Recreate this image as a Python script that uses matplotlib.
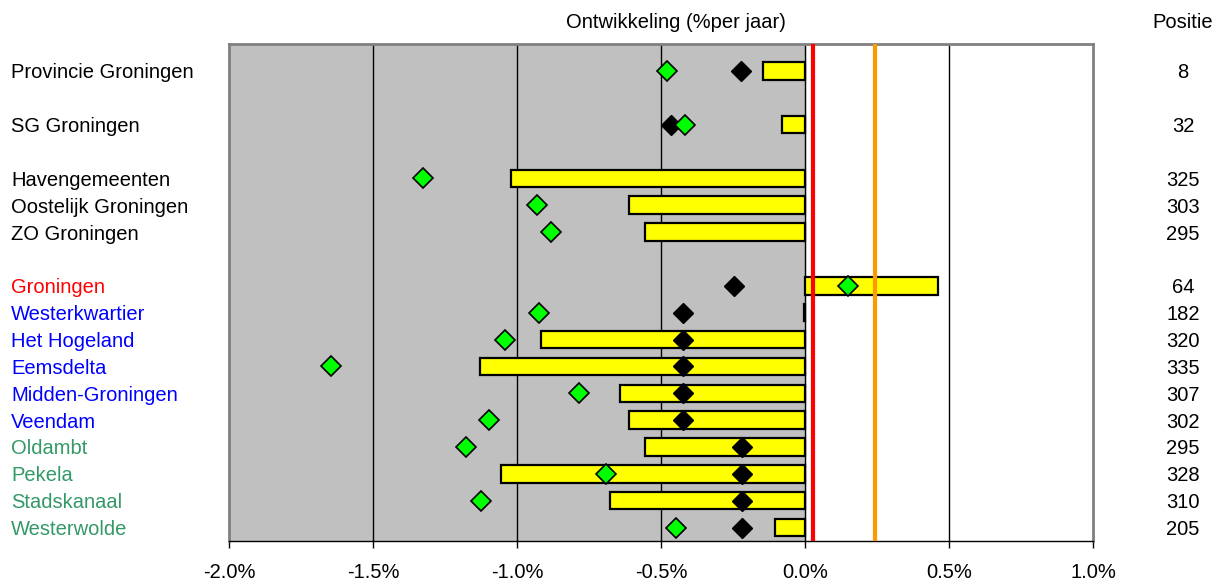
import matplotlib
matplotlib.use("Agg")
import matplotlib.pyplot as plt
import matplotlib.transforms as mtransforms
import numpy as np

plt.rcParams['font.family'] = ['Liberation Sans', 'DejaVu Sans']

labels = ["Provincie Groningen", "", "SG Groningen", "", "Havengemeenten", "Oostelijk Groningen",
          "ZO Groningen", "", "Groningen", "Westerkwartier", "Het Hogeland", "Eemsdelta",
          "Midden-Groningen", "Veendam", "Oldambt", "Pekela", "Stadskanaal", "Westerwolde"]
label_colors = ["black", "black", "black", "black", "black", "black", "black", "black",
                "#ff0000", "#0000ff", "#0000ff", "#0000ff", "#0000ff", "#0000ff",
                "#339966", "#339966", "#339966", "#339966"]
bar_values = [-0.146, np.nan, -0.080, np.nan, -1.021, -0.611, -0.556, np.nan,
              0.462, -0.004, -0.917, -1.128, -0.642, -0.611, -0.556, -1.056, -0.677, -0.104]
green_values = [-0.479, np.nan, -0.417, np.nan, -1.326, -0.931, -0.882, np.nan,
                0.149, -0.924, -1.042, -1.646, -0.785, -1.097, -1.177, -0.691, -1.125, -0.448]
black_values = [-0.222, np.nan, -0.465, np.nan, np.nan, np.nan, np.nan, np.nan,
                -0.247, -0.424, -0.424, -0.424, -0.424, -0.424, -0.219, -0.219, -0.219, -0.219]
positions = ["8", "", "32", "", "325", "303", "295", "", "64", "182", "320", "335",
             "307", "302", "295", "328", "310", "205"]
red_line = 0.028
orange_line = 0.243
xticks = [-2.0, -1.5, -1.0, -0.5, 0.0, 0.5, 1.0]

FS = 14.5
W, H = 1223, 584
fig = plt.figure(figsize=(W / 100, H / 100), dpi=100)
ax = fig.add_axes([229 / W, 1 - 541 / H, (1093 - 229) / W, (541 - 44) / H])

ax.set_xlim(-2.0, 1.0)
ax.set_ylim(17.5, -1.0)
ax.axvspan(-2.0, 0.0, color="#c0c0c0", zorder=0)
for x in [-1.5, -1.0, -0.5, 0.0, 0.5]:
    ax.axvline(x, color="black", lw=1, zorder=1)

y = np.arange(len(labels))
bv = np.array(bar_values, dtype=float)
mask = ~np.isnan(bv)
ax.barh(y[mask], bv[mask], height=0.65, color="#ffff00", edgecolor="black", linewidth=1.6, zorder=3)

ax.axvline(red_line, color="#ff0000", lw=3, zorder=4)
ax.axvline(orange_line, color="#ff9900", lw=3, zorder=4)

ax.plot(black_values, y, linestyle="none", marker="D", markersize=10, color="black",
        markeredgecolor="black", zorder=5)
ax.plot(green_values, y, linestyle="none", marker="D", markersize=10, color="#00ff00",
        markeredgecolor="black", markeredgewidth=1.2, zorder=6)

ax.set_xticks(xticks)
ax.set_xticklabels([f"{v:.1f}%" for v in xticks], fontsize=FS)
ax.tick_params(axis="x", direction="out", length=5, width=1, pad=11)
ax.set_yticks([])
for side in ["top", "right", "left"]:
    ax.spines[side].set_color("#808080")
    ax.spines[side].set_linewidth(2)
ax.spines["bottom"].set_color("black")
ax.spines["bottom"].set_linewidth(1)

trans = mtransforms.blended_transform_factory(fig.transFigure, ax.transData)
for i, (lab, col, pos) in enumerate(zip(labels, label_colors, positions)):
    if lab:
        ax.text(11 / W, i, lab, transform=trans, fontsize=FS, color=col,
                ha="left", va="center_baseline", clip_on=False)
    if pos:
        ax.text(1183 / W, i, pos, transform=trans, fontsize=FS, color="black",
                ha="center", va="center_baseline", clip_on=False)

fig.text(676 / W, 1 - 20 / H, "Ontwikkeling (%per jaar)", fontsize=FS, ha="center", va="center_baseline")
fig.text(1183 / W, 1 - 20 / H, "Positie", fontsize=FS, ha="center", va="center_baseline")

fig.savefig("out.png", dpi=100)
